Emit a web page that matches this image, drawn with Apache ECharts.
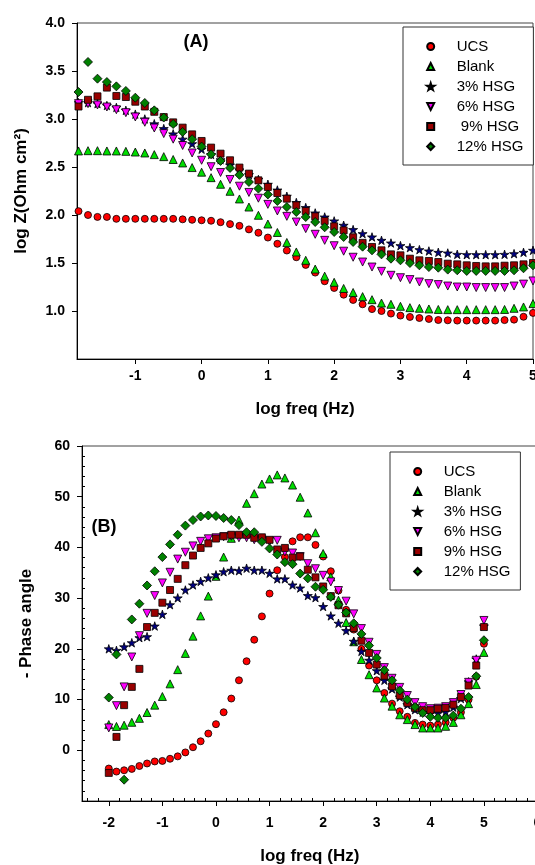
<!DOCTYPE html>
<html>
<head>
<meta charset="utf-8">
<script src="https://cdn.jsdelivr.net/npm/echarts@6/dist/echarts.min.js"></script>
<style>
  html, body { margin: 0; padding: 0; background: #fff; }
  #chart { width: 535px; height: 865px; }
</style>
</head>
<body>
<div id="chart"></div>
<script>
// Log of frequency (Hz), 7 points per decade from 10 mHz to 100 kHz
const logFreq = [-2, -1.857, -1.714, -1.571, -1.429, -1.286, -1.143, -1, -0.857, -0.714,
  -0.571, -0.429, -0.286, -0.143, 0, 0.143, 0.286, 0.429, 0.571, 0.714,
  0.857, 1, 1.143, 1.286, 1.429, 1.571, 1.714, 1.857, 2, 2.143,
  2.286, 2.429, 2.571, 2.714, 2.857, 3, 3.143, 3.286, 3.429, 3.571,
  3.714, 3.857, 4, 4.143, 4.286, 4.429, 4.571, 4.714, 4.857, 5];

// Panel A: log |Z| (Ohm cm2), from the second frequency onwards
const ucsLogZ = [2.04, 2.00, 1.98, 1.98, 1.96, 1.96, 1.96, 1.96, 1.96, 1.96,
  1.96, 1.955, 1.95, 1.945, 1.94, 1.925, 1.905, 1.887, 1.85, 1.815,
  1.765, 1.70, 1.63, 1.56, 1.48, 1.40, 1.31, 1.24, 1.17, 1.115,
  1.07, 1.02, 1.0, 0.973, 0.952, 0.938, 0.927, 0.917, 0.906, 0.903,
  0.90, 0.90, 0.90, 0.90, 0.90, 0.905, 0.91, 0.94, 0.98];
const blankLogZ = [2.667, 2.67, 2.67, 2.667, 2.667, 2.663, 2.656, 2.646, 2.629, 2.608,
  2.578, 2.542, 2.494, 2.446, 2.389, 2.32, 2.247, 2.167, 2.083, 1.997,
  1.906, 1.818, 1.714, 1.615, 1.528, 1.437, 1.363, 1.299, 1.235, 1.193,
  1.15, 1.118, 1.083, 1.07, 1.049, 1.035, 1.028, 1.021, 1.016, 1.014,
  1.014, 1.014, 1.014, 1.014, 1.014, 1.016, 1.028, 1.042, 1.077];
const hsg3LogZ = [3.17, 3.17, 3.16, 3.14, 3.12, 3.09, 3.05, 3.0, 2.95, 2.9,
  2.845, 2.79, 2.743, 2.685, 2.63, 2.575, 2.52, 2.47, 2.42, 2.37,
  2.32, 2.26, 2.195, 2.13, 2.077, 2.021, 1.979, 1.938, 1.893, 1.848,
  1.806, 1.771, 1.736, 1.708, 1.681, 1.66, 1.639, 1.625, 1.611, 1.604,
  1.59, 1.587, 1.587, 1.587, 1.587, 1.59, 1.597, 1.611, 1.632];
const hsg6LogZ = [3.16, 3.16, 3.146, 3.125, 3.097, 3.066, 3.021, 2.966, 2.906, 2.848,
  2.79, 2.724, 2.646, 2.57, 2.503, 2.443, 2.37, 2.30, 2.235, 2.175,
  2.111, 2.042, 1.986, 1.927, 1.858, 1.799, 1.736, 1.68, 1.623, 1.56,
  1.51, 1.458, 1.413, 1.372, 1.347, 1.327, 1.302, 1.285, 1.275, 1.26,
  1.25, 1.25, 1.244, 1.244, 1.244, 1.244, 1.26, 1.28, 1.313];
const hsg9LogZ = [3.13, 3.2, 3.236, 3.327, 3.24, 3.229, 3.18, 3.13, 3.075, 3.02,
  2.965, 2.91, 2.84, 2.771, 2.702, 2.639, 2.57, 2.494, 2.431, 2.361,
  2.292, 2.229, 2.17, 2.101, 2.042, 1.986, 1.938, 1.882, 1.84, 1.768,
  1.71, 1.667, 1.632, 1.59, 1.58, 1.545, 1.528, 1.521, 1.51, 1.493,
  1.486, 1.476, 1.469, 1.465, 1.465, 1.472, 1.476, 1.486, 1.5];
const hsg12LogZ = [3.281, 3.594, 3.42, 3.385, 3.34, 3.292, 3.222, 3.167, 3.09, 3.015,
  2.948, 2.865, 2.79, 2.713, 2.632, 2.563, 2.49, 2.418, 2.344, 2.275,
  2.214, 2.146, 2.083, 2.031, 1.979, 1.927, 1.872, 1.823, 1.771, 1.719,
  1.67, 1.632, 1.59, 1.545, 1.528, 1.5, 1.476, 1.458, 1.451, 1.431,
  1.424, 1.417, 1.417, 1.417, 1.417, 1.417, 1.424, 1.445, 1.476];

// Panel B: minus phase angle (degrees)
const ucsPhase = [-3.6, -4.2, -3.94, -3.67, -3.1, -2.6, -2.2, -2.1, -1.67, -1.2,
  -0.42, 0.6, 1.78, 3.3, 5.15, 7.5, 10.2, 13.8, 17.56, 21.8,
  26.4, 30.9, 35.5, 38.1, 41.2, 42.0, 42.0, 40.5, 38.2, 35.3,
  31.5, 27.7, 23.8, 20.0, 16.7, 13.8, 11.3, 9.2, 7.7, 6.6,
  5.4, 5.07, 4.87, 5.07, 5.5, 6.4, 7.5, 10.0, 14.5, 21.0];
const blankPhase = [5.07, 4.7, 4.95, 5.52, 6.3, 7.45, 8.9, 10.6, 13.1, 15.9,
  19.1, 22.5, 26.5, 30.4, 34.3, 38.1, 41.8, 45.4, 48.7, 50.6,
  52.5, 53.5, 54.3, 53.7, 52.3, 49.9, 46.8, 42.9, 38.8, 34.2,
  29.6, 25.2, 21.4, 17.9, 14.9, 12.3, 10.3, 8.7, 7.0, 6.05,
  5.07, 4.4, 4.4, 4.4, 4.73, 5.5, 7.0, 9.2, 12.96, 19.3];
const hsg3Phase = [20.0, 19.7, 20.4, 21.2, 22.2, 22.4, 24.5, 26.8, 28.7, 30.05,
  31.6, 32.6, 33.3, 34.0, 34.6, 35.2, 35.5, 35.4, 35.9, 35.5,
  35.5, 34.9, 33.8, 33.8, 32.6, 32.0, 30.5, 30.1, 28.35, 26.5,
  25.05, 23.6, 21.5, 19.5, 17.75, 15.7, 13.8, 12.1, 10.5, 9.0,
  8.0, 7.5, 7.3, 7.3, 7.6, 8.5, 10.2, 13.5, 18.0, 24.5];
const hsg6Phase = [4.41, 8.8, 12.5, 18.4, 22.6, 27.0, 30.5, 33.0, 35.1, 37.7,
  39.05, 40.3, 41.2, 41.7, 41.9, 42.1, 42.2, 41.9, 41.9, 41.5,
  41.5, 41.2, 41.4, 39.1, 38.9, 38.2, 36.8, 35.8, 34.5, 33.2,
  31.5, 29.4, 26.9, 24.0, 21.3, 18.9, 16.3, 14.2, 12.4, 10.8,
  9.4, 8.6, 8.2, 8.3, 8.6, 9.4, 11.0, 13.4, 17.75, 25.6];
const hsg9Phase = [-4.46, 2.64, 8.9, 12.5, 16.05, 24.3, 27.1, 29.1, 31.6, 33.8,
  36.5, 38.4, 39.9, 40.8, 41.75, 42.2, 42.5, 42.5, 42.5, 41.9,
  42.0, 41.5, 39.6, 39.9, 38.0, 38.2, 35.6, 34.1, 32.3, 30.4,
  28.6, 27.0, 24.1, 21.6, 19.2, 16.9, 14.7, 12.6, 10.8, 9.35,
  8.36, 7.9, 7.9, 8.2, 8.36, 9.0, 10.5, 12.76, 16.7, 24.3];
const hsg12Phase = [10.4, 18.9, -5.8, 25.8, 28.9, 32.5, 35.3, 38.1, 40.6, 42.5,
  44.3, 45.4, 46.1, 46.3, 46.2, 45.8, 45.4, 44.4, 43.0, 43.0,
  41.1, 39.8, 38.6, 37.1, 36.7, 34.85, 33.9, 32.25, 31.65, 30.25,
  28.7, 27.15, 25.05, 22.95, 20.65, 18.2, 15.8, 13.8, 11.8, 10.0,
  8.55, 7.37, 6.6, 6.4, 6.4, 6.85, 8.2, 10.5, 14.6, 21.7];

// Axis tick positions
const ticksA = [-1, 0, 1, 2, 3, 4, 5];
const ticksB = [-2, -1, 0, 1, 2, 3, 4, 5, 6];
const minorTicksB = [-2.4, -2.2, -1.8, -1.6, -1.4, -1.2, -0.8, -0.6, -0.4, -0.2,
  0.2, 0.4, 0.6, 0.8, 1.2, 1.4, 1.6, 1.8, 2.2, 2.4, 2.6, 2.8,
  3.2, 3.4, 3.6, 3.8, 4.2, 4.4, 4.6, 4.8, 5.2, 5.4, 5.6, 5.8];

const seriesNames = ['UCS', 'Blank', '3% HSG', '6% HSG', '9% HSG', '12% HSG'];

// Marker outlines as paths so that legend icons keep their proportions
const STAR = 'path://M50,0 L61,35 L98,35 L68,57 L79,91 L50,70 L21,91 L32,57 L2,35 L39,35 Z';
const TRIANGLE_UP = 'path://M50,0 L100,100 L0,100 Z';
const TRIANGLE_DOWN = 'path://M0,0 L100,0 L50,100 Z';
const SQUARE = 'path://M0,0 L100,0 L100,100 L0,100 Z';
const DIAMOND = 'path://M50,0 L100,50 L50,100 L0,50 Z';
const markers = [
  { symbol: 'circle', size: 7, color: '#ff0000' },
  { symbol: TRIANGLE_UP, size: 8, color: '#00dd00' },
  { symbol: STAR, size: 9, color: '#000080' },
  { symbol: TRIANGLE_DOWN, size: 8, color: '#ff00ff' },
  { symbol: SQUARE, size: 7, color: '#990000' },
  { symbol: DIAMOND, size: 9, color: '#008000' }
];

const freqA = logFreq.slice(1);
const panelA = [ucsLogZ, blankLogZ, hsg3LogZ, hsg6LogZ, hsg9LogZ, hsg12LogZ];
const panelB = [ucsPhase, blankPhase, hsg3Phase, hsg6Phase, hsg9Phase, hsg12Phase];

const FONT = '"Liberation Sans", Arial, sans-serif';
const tickLabel = { fontFamily: FONT, fontWeight: 'bold', fontSize: 14, color: '#000' };
const axisTitle = { fontFamily: FONT, fontWeight: 'bold', fontSize: 17, color: '#000' };
const blackLine = { color: '#000', width: 1 };

function scatter(name, i, xs, ys, axisIdx) {
  const m = markers[i];
  return {
    type: 'scatter',
    name: name,
    xAxisIndex: axisIdx,
    yAxisIndex: axisIdx,
    symbol: m.symbol,
    symbolSize: m.size,
    symbolKeepAspect: true,
    itemStyle: { color: m.color, borderColor: '#000', borderWidth: 0.8, opacity: 1 },
    emphasis: { disabled: true },
    data: ys.map((y, k) => [xs[k], y])
  };
}

const series = [];
seriesNames.forEach((n, i) => series.push(scatter(n, i, freqA, panelA[i], 0)));
seriesNames.forEach((n, i) => series.push(scatter(n, i, logFreq, panelB[i], 1)));

function legendAt(left, top, formatter) {
  return {
    orient: 'vertical',
    left: left,
    top: top,
    data: seriesNames,
    itemWidth: 42,
    itemHeight: 7,
    itemGap: 5,
    symbolKeepAspect: true,
    padding: [12, 10, 11, 23],
    borderColor: '#333',
    borderWidth: 1,
    backgroundColor: '#fff',
    selectedMode: false,
    formatter: formatter,
    textStyle: { fontFamily: FONT, fontSize: 15, color: '#000', lineHeight: 14 }
  };
}

const noZero = { onZero: false, lineStyle: blackLine };

const option = {
  animation: false,
  backgroundColor: '#fff',
  grid: [
    { left: 77, top: 23, width: 456, height: 336, show: true, borderColor: '#444', borderWidth: 1,
      containLabel: false, outerBoundsMode: 'none' },
    { left: 82, top: 446, width: 455.5, height: 355, show: true, borderColor: '#444', borderWidth: 1,
      containLabel: false, outerBoundsMode: 'none' }
  ],
  xAxis: [
    {
      gridIndex: 0, type: 'value', min: -1.88, max: 5, position: 'bottom',
      axisLine: noZero,
      axisTick: { customValues: ticksA, length: 5, lineStyle: blackLine },
      axisLabel: { customValues: ticksA, margin: 10, ...tickLabel },
      splitLine: { show: false },
      name: 'log freq (Hz)', nameLocation: 'middle', nameGap: 42, nameTextStyle: axisTitle
    },
    {
      gridIndex: 1, type: 'value', min: -2.5, max: 6, position: 'bottom',
      axisLine: noZero,
      axisTick: { customValues: ticksB, length: 5, lineStyle: blackLine },
      axisLabel: { customValues: ticksB, margin: 15, ...tickLabel },
      splitLine: { show: false },
      name: 'log freq (Hz)', nameLocation: 'middle', nameGap: 47, nameTextStyle: axisTitle
    },
    {
      gridIndex: 1, type: 'value', min: -2.5, max: 6, position: 'bottom',
      axisLine: { show: false, onZero: false },
      axisTick: { customValues: minorTicksB, inside: true, length: 3, lineStyle: blackLine },
      axisLabel: { show: false },
      splitLine: { show: false }
    }
  ],
  yAxis: [
    {
      gridIndex: 0, type: 'value', min: 0.5, max: 4, interval: 0.5, position: 'left',
      axisLine: { show: true, onZero: false, lineStyle: blackLine },
      axisTick: { show: true, length: 5, lineStyle: blackLine },
      axisLabel: { showMinLabel: false, margin: 12, formatter: v => v.toFixed(1), ...tickLabel },
      splitLine: { show: false },
      name: 'log Z(Ohm cm²)', nameLocation: 'middle', nameGap: 47, nameTextStyle: axisTitle
    },
    {
      gridIndex: 1, type: 'value', min: -10, max: 60, interval: 10, position: 'left',
      axisLine: { show: true, onZero: false, lineStyle: blackLine },
      axisTick: { show: true, length: 5, lineStyle: blackLine },
      axisLabel: { showMinLabel: false, margin: 12, ...tickLabel },
      splitLine: { show: false },
      name: '- Phase angle', nameLocation: 'middle', nameGap: 47, nameTextStyle: axisTitle
    },
    {
      gridIndex: 1, type: 'value', min: -10, max: 60, interval: 10, position: 'left',
      axisLine: { show: false, onZero: false },
      axisTick: { show: false, inside: true },
      minorTick: { show: true, splitNumber: 5, length: 3, lineStyle: blackLine },
      axisLabel: { show: false },
      splitLine: { show: false }
    }
  ],
  legend: [
    legendAt(403, 27, n => (n === '9% HSG' ? ' 9% HSG' : n)),
    legendAt(390, 452, n => n)
  ],
  graphic: [
    { type: 'text', style: { text: '(A)', x: 196, y: 42, align: 'center', verticalAlign: 'middle',
      font: 'bold 18px "Liberation Sans", Arial, sans-serif', fill: '#000' } },
    { type: 'text', style: { text: '(B)', x: 104, y: 527, align: 'center', verticalAlign: 'middle',
      font: 'bold 18px "Liberation Sans", Arial, sans-serif', fill: '#000' } }
  ],
  series: series
};

const chart = echarts.init(document.getElementById('chart'), null, { renderer: 'canvas' });
chart.setOption(option);
</script>
</body>
</html>
